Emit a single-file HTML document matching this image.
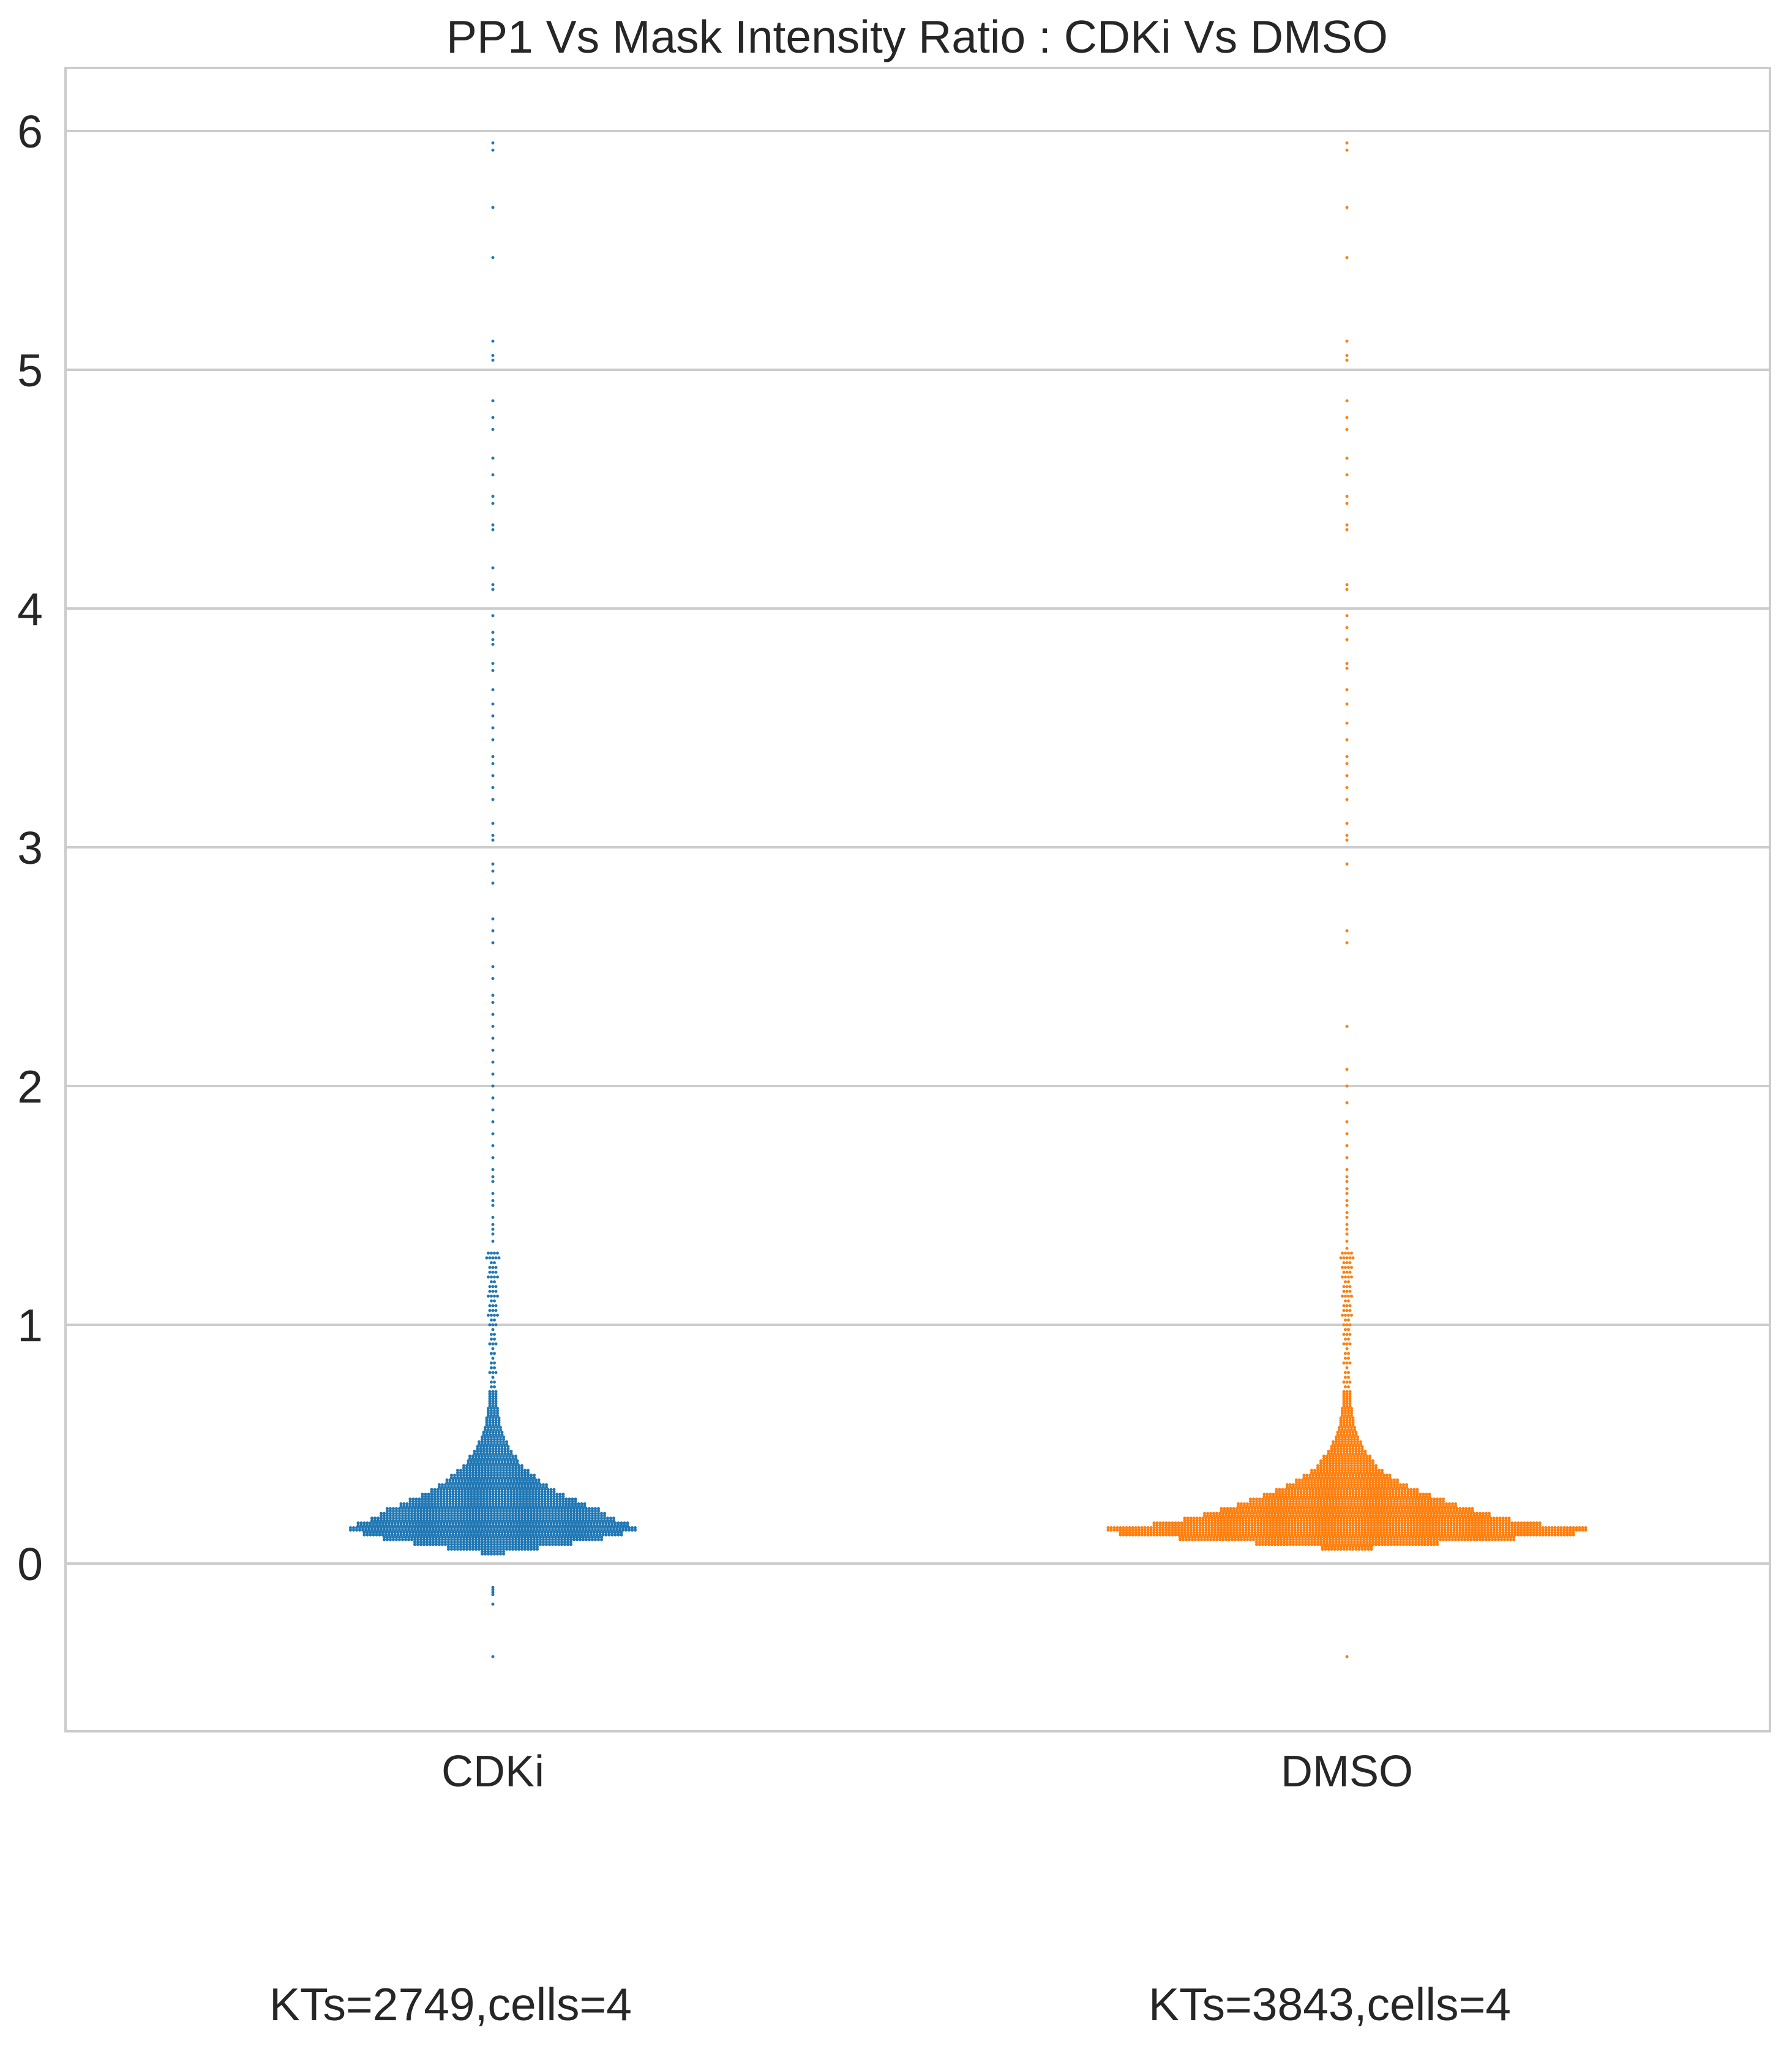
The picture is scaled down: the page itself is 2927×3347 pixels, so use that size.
<!DOCTYPE html>
<html><head><meta charset="utf-8"><style>
html,body{margin:0;padding:0;background:#fff;}
svg text{font-family:"Liberation Sans",Arial,sans-serif;fill:#262626;}
</style></head><body>
<svg id="chart" width="2927" height="3342" viewBox="0 0 2927 3342" xmlns="http://www.w3.org/2000/svg">
<rect width="2927" height="3342" fill="#fff"/>
<g id="grid"></g>
<g id="marks"></g>
<rect x="107" y="111" width="2784" height="2717" fill="none" stroke="#cccccc" stroke-width="4"/>
<text x="1498" y="86" font-size="75" text-anchor="middle">PP1 Vs Mask Intensity Ratio : CDKi Vs DMSO</text>
<g id="yticks"></g>
<g id="xticks"></g>
</svg>
<script>
const categories = ["CDKi", "DMSO"];
const annotations = ["KTs=2749,cells=4", "KTs=3843,cells=4"];
const yTicks = [0, 1, 2, 3, 4, 5, 6];
const colors = ["#1f77b4", "#ff7f0e"];
// dense core: value levels and dots per row at each level
const coreLevels = [0.04,0.06,0.08,0.10,0.12,0.14,0.16,0.18,0.20,0.22,0.24,0.26,0.28,0.30,0.32,0.34,0.36,0.38,0.40,0.42,0.44,0.46,0.48,0.50,0.52,0.54,0.56,0.58,0.60,0.62,0.64,0.66,0.68,0.70];
const cdkiCounts = [8,30,52,72,85,94,89,80,74,70,61,55,47,41,36,31,28,24,20,17,16,13,11,10,8,7,6,5,5,4,4,3,3,3];
const dmsoCounts = [0,17,60,110,149,157,127,107,94,83,72,64,55,47,40,34,29,24,20,18,16,13,11,10,8,7,6,5,5,4,4,3,3,3];
// mid tail levels 0.72..1.30
const midLevels = [0.72,0.76,0.80,0.84,0.88,0.92,0.96,1.00,1.04,1.08,1.12,1.16,1.20,1.24,1.28];
const cdkiMid = [3,2,3,2,2,3,2,3,4,3,4,3,4,3,5];
const dmsoMid = [3,3,2,3,2,3,3,3,4,3,4,3,4,4,5];
// sparse tails (individual values)
const cdkiTail = [5.95,5.92,5.68,5.47,5.12,5.06,5.04,4.87,4.80,4.75,4.63,4.56,4.47,4.44,4.35,4.33,4.17,4.10,4.08,3.97,3.90,3.87,3.85,3.77,3.74,3.66,3.60,3.55,3.50,3.45,3.38,3.35,3.30,3.25,3.20,3.10,3.05,3.03,2.93,2.90,2.85,2.70,2.65,2.60,2.50,2.45,2.38,2.35,2.30,2.25,2.20,2.15,2.10,2.05,2.00,1.95,1.90,1.85,1.80,1.75,1.70,1.65,1.62,1.60,1.55,1.52,1.50,1.45,1.42,1.40,1.38,1.35,-0.10,-0.11,-0.12,-0.13,-0.17,-0.39];
const dmsoTail = [5.95,5.92,5.68,5.47,5.12,5.06,5.04,4.87,4.80,4.75,4.63,4.56,4.47,4.44,4.35,4.33,4.10,4.08,3.97,3.92,3.87,3.77,3.75,3.66,3.60,3.52,3.45,3.38,3.35,3.30,3.25,3.20,3.10,3.05,3.03,2.93,2.65,2.60,2.25,2.07,2.00,1.93,1.85,1.80,1.75,1.70,1.65,1.62,1.60,1.57,1.55,1.52,1.50,1.47,1.45,1.42,1.40,1.38,1.35,1.32,-0.39];

const NS = "http://www.w3.org/2000/svg";
const y0 = 2554, unit = 390;
function yScale(v){ return y0 - v*unit; }
const xLeft = 107, xRight = 2891;
function xScale(i){ return [805, 2200][i]; }
const annX = [736, 2172];
function mk(tag, attrs, parent){ const e=document.createElementNS(NS,tag); for(const k in attrs) e.setAttribute(k,attrs[k]); parent.appendChild(e); return e; }

const grid=document.getElementById('grid'), yt=document.getElementById('yticks'), xt=document.getElementById('xticks'), marks=document.getElementById('marks');
yTicks.forEach(t=>{
  const l=mk('line',{x1:xLeft,x2:xRight,y1:yScale(t),y2:yScale(t),stroke:'#cccccc','stroke-width':4},grid);
  
  
  const tx=mk('text',{x:70,y:yScale(t)+27,'font-size':75,'text-anchor':'end'},yt);
  tx.textContent=String(t);
  
  
});
categories.forEach((c,i)=>{
  const tx=mk('text',{x:xScale(i),y:2918,'font-size':72,'text-anchor':'middle'},xt);
  tx.textContent=c;
  
  
  const an=mk('text',{x:annX[i],y:3300,'font-size':75,'text-anchor':'middle'},xt);
  an.textContent=annotations[i];
  
  
});
const SP=5, R=2.5;
function row(g, cx, v, n, col){
  for(let k=0;k<n;k++){
    const off=(k-(n-1)/2)*SP;
    const d=mk('circle',{cx:cx+off,cy:yScale(v),r:R,fill:col},g);
    
    
  }
}
const coreCounts=[cdkiCounts,dmsoCounts], midCounts=[cdkiMid,dmsoMid], tails=[cdkiTail,dmsoTail];
categories.forEach((c,i)=>{
  const g=mk('g',{},marks);
  
  
  const cx=xScale(i), col=colors[i];
  coreLevels.forEach((v,j)=>{ row(g,cx,v,coreCounts[i][j],col); row(g,cx,v+0.01,coreCounts[i][j],col); });
  midLevels.forEach((v,j)=>{ row(g,cx,v,midCounts[i][j],col); row(g,cx,v+0.02,Math.max(1,midCounts[i][j]-1),col); });
  tails[i].forEach(v=>row(g,cx,v,1,col));
});
</script>
</body></html>
